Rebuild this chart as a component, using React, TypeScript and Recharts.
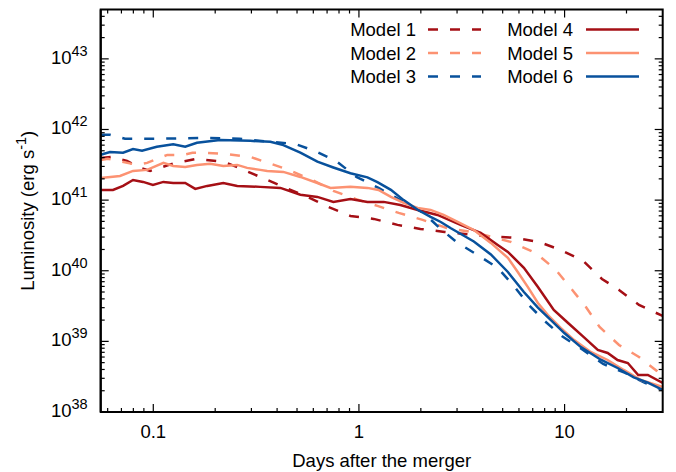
import React from 'react';
import { LineChart, Line, XAxis, YAxis, Legend } from 'recharts';

const FONT = '"Liberation Sans", Arial, Helvetica, sans-serif';
const DARK_RED = '#a50f15';
const SALMON = '#fc9272';
const BLUE = '#08519c';

// ---- data: days after merger / luminosity (erg s^-1) ----
const model1Days = [0.0555, 0.063, 0.0745, 0.0862, 0.0965, 0.128, 0.163, 0.221, 0.268, 0.331, 0.429, 0.549, 0.711, 0.909, 1.18, 1.54, 1.99, 2.61, 4.09, 5.79, 7.49, 9.58, 12.3, 15.2, 18.4, 23.0, 30];
const model1Lum = [3.96e41, 4.09e41, 3.59e41, 2.86e41, 2.59e41, 3.37e41, 3.84e41, 3.47e41, 2.77e41, 2.13e41, 1.54e41, 1.15e41, 8.0e40, 5.97e40, 5.42e40, 4.46e40, 3.91e40, 3.55e40, 3.11e40, 2.92e40, 2.56e40, 1.97e40, 1.38e40, 7.65e39, 5.35e39, 3.28e39, 2.29e39];

const model2Days = [0.0555, 0.0602, 0.0834, 0.0933, 0.117, 0.140, 0.155, 0.183, 0.224, 0.296, 0.351, 0.454, 0.594, 0.751, 0.962, 1.23, 1.56, 2.04, 2.67, 3.74, 5.47, 7.24, 9.06, 11.0, 12.7, 14.8, 18.4, 23.0, 28.1, 30];
const model2Lum = [3.71e41, 3.84e41, 3.15e41, 3.37e41, 4.37e41, 4.37e41, 4.67e41, 4.67e41, 4.51e41, 4.09e41, 3.47e41, 2.68e41, 1.93e41, 1.35e41, 1.04e41, 8.28e40, 6.59e40, 5.25e40, 4.04e40, 3.43e40, 2.56e40, 1.79e40, 1.03e40, 5.18e39, 3.07e39, 1.6e39, 8.89e38, 6.01e38, 3.81e38, 3.13e38];

const model3Days = [0.0555, 0.0616, 0.0729, 0.108, 0.169, 0.263, 0.37, 0.49, 0.628, 0.786, 0.972, 1.245, 1.593, 2.06, 2.5, 3.02, 3.78, 4.73, 5.72, 6.69, 8.01, 9.69, 12.3, 15.4, 19.7, 24.6, 30];
const model3Lum = [8.4e41, 8.4e41, 7.4e41, 7.4e41, 7.6e41, 7.4e41, 6.7e41, 6.25e41, 4.8e41, 3.47e41, 2.13e41, 1.49e41, 1.0e41, 6.6e40, 3.9e40, 2.48e40, 1.67e40, 1.1e40, 5.9e39, 3.28e39, 1.94e39, 1.19e39, 7.55e38, 4.79e38, 3.57e38, 2.58e38, 2.05e38];

const model4Days = [0.0555, 0.0637, 0.0713, 0.0797, 0.0892, 0.0996, 0.112, 0.125, 0.143, 0.160, 0.183, 0.219, 0.256, 0.331, 0.415, 0.519, 0.628, 0.751, 0.909, 1.10, 1.32, 1.59, 1.93, 2.41, 3.12, 3.91, 4.73, 5.30, 6.34, 7.42, 8.86, 10.4, 12.4, 14.5, 16.2, 18.1, 20.3, 22.8, 25.4, 30];
const model4Lum = [1.39e41, 1.39e41, 1.59e41, 1.93e41, 1.81e41, 1.64e41, 1.81e41, 1.75e41, 1.75e41, 1.44e41, 1.59e41, 1.75e41, 1.59e41, 1.54e41, 1.49e41, 1.19e41, 1.11e41, 9.44e40, 1.04e41, 9.44e40, 9.44e40, 8.55e40, 7.26e40, 6.17e40, 4.46e40, 3.43e40, 2.32e40, 1.85e40, 1.1e40, 5.9e39, 2.79e39, 1.82e39, 1.15e39, 7.55e38, 6.86e38, 5.45e38, 4.94e38, 3.34e38, 3.34e38, 2.58e38];

const model5Days = [0.0555, 0.0689, 0.0797, 0.0933, 0.112, 0.125, 0.143, 0.163, 0.189, 0.219, 0.256, 0.286, 0.331, 0.358, 0.429, 0.519, 0.628, 0.727, 0.909, 1.10, 1.245, 1.43, 1.65, 1.93, 2.23, 2.58, 3.02, 3.62, 4.38, 5.30, 5.92, 6.62, 7.42, 8.28, 9.58, 11.1, 13.4, 16.2, 19.4, 23.5, 30];
const model5Lum = [2.06e41, 2.2e41, 2.59e41, 2.68e41, 3.37e41, 3.05e41, 2.95e41, 3.15e41, 3.26e41, 3.05e41, 3.15e41, 2.86e41, 2.68e41, 2.59e41, 2.51e41, 2.13e41, 1.75e41, 1.49e41, 1.54e41, 1.49e41, 1.39e41, 1.11e41, 9.12e40, 7.76e40, 7.26e40, 6.17e40, 4.91e40, 3.78e40, 2.48e40, 1.52e40, 9.6e39, 5.9e39, 3.5e39, 2.37e39, 1.55e39, 1.05e39, 7.08e38, 5.45e38, 3.94e38, 2.84e38, 2.26e38];

const model6Days = [0.0555, 0.0616, 0.0713, 0.0797, 0.0882, 0.104, 0.125, 0.143, 0.163, 0.211, 0.296, 0.371, 0.429, 0.519, 0.628, 0.751, 0.909, 1.10, 1.23, 1.43, 1.65, 1.93, 2.23, 2.5, 2.8, 3.62, 4.38, 5.30, 6.34, 7.42, 8.58, 10.0, 12.0, 15.0, 18.1, 21.7, 25.4, 30];
const model6Lum = [4.4e41, 4.8e41, 4.7e41, 5.3e41, 5.0e41, 5.7e41, 6.2e41, 5.7e41, 6.5e41, 7.1e41, 6.9e41, 6.7e41, 6.0e41, 4.7e41, 3.5e41, 2.9e41, 2.4e41, 2.1e41, 1.8e41, 1.4e41, 1.0e41, 7.3e40, 5.8e40, 4.9e40, 4.0e40, 2.6e40, 1.7e40, 9.6e39, 5.0e39, 3.0e39, 2.0e39, 1.3e39, 8.3e38, 5.5e38, 4.2e38, 3.1e38, 2.6e38, 2.05e38];

// ---- axes ----
const X_DOMAIN = [0.0555, 30];
const Y_DOMAIN = [1e38, 5e43];
const X_MAJOR = [0.1, 1, 10];
const X_LABELS = ['0.1', '1', '10'];
const X_MINOR = [0.06, 0.07, 0.08, 0.09, 0.2, 0.3, 0.4, 0.5, 0.6, 0.7, 0.8, 0.9, 2, 3, 4, 5, 6, 7, 8, 9, 20];
const Y_EXPONENTS = [38, 39, 40, 41, 42, 43];
const MINOR_MULT = [2, 3, 4, 5, 6, 7, 8, 9];

const X_TICKS = [...X_MAJOR, ...X_MINOR].sort((a, b) => a - b);
const Y_MAJOR = Y_EXPONENTS.map((e) => Math.pow(10, e));
const Y_TICKS: number[] = [];
Y_EXPONENTS.forEach((e) => {
  Y_TICKS.push(Math.pow(10, e));
  MINOR_MULT.forEach((m) => {
    const v = m * Math.pow(10, e);
    if (v < Y_DOMAIN[1]) Y_TICKS.push(v);
  });
});

const SERIES = [
  { name: 'Model 1', days: model1Days, lum: model1Lum, color: DARK_RED, dash: '10 12' },
  { name: 'Model 2', days: model2Days, lum: model2Lum, color: SALMON, dash: '10 12' },
  { name: 'Model 3', days: model3Days, lum: model3Lum, color: BLUE, dash: '10 12' },
  { name: 'Model 4', days: model4Days, lum: model4Lum, color: DARK_RED, dash: undefined },
  { name: 'Model 5', days: model5Days, lum: model5Lum, color: SALMON, dash: undefined },
  { name: 'Model 6', days: model6Days, lum: model6Lum, color: BLUE, dash: undefined },
].map((s) => ({ ...s, data: s.days.map((d, i) => ({ x: d, y: s.lum[i] })) }));

// ---- layout ----
const W = 676;
const H = 472;
const MARGIN = { top: 9.5, right: 13.3, bottom: 0, left: 0 };
const Y_AXIS_W = 100.7;
const X_AXIS_H = 60;
const PLOT_LEFT = MARGIN.left + Y_AXIS_W;
const PLOT_TOP = MARGIN.top;
const PLOT_RIGHT = W - MARGIN.right;
const PLOT_BOTTOM = H - MARGIN.bottom - X_AXIS_H;

const MAJOR_LEN = 8;
const MINOR_LEN = 4;
const TICK_W = 1.2;
const FRAME_W = 2;
const FS = 18.5;

const isMajorY = (v: number) => Y_MAJOR.some((m) => Math.abs(m - v) / m < 1e-9);

// log mapping identical to the chart's axes (same domain and range), used for the frame ticks
const LX0 = Math.log10(X_DOMAIN[0]);
const LX1 = Math.log10(X_DOMAIN[1]);
const LY0 = Math.log10(Y_DOMAIN[0]);
const LY1 = Math.log10(Y_DOMAIN[1]);
const tickX = (v: number) => PLOT_LEFT + ((Math.log10(v) - LX0) / (LX1 - LX0)) * (PLOT_RIGHT - PLOT_LEFT);
const tickY = (v: number) => PLOT_BOTTOM - ((Math.log10(v) - LY0) / (LY1 - LY0)) * (PLOT_BOTTOM - PLOT_TOP);

const BottomTick = (props: any) => {
  const { x, y, payload } = props;
  const idx = X_MAJOR.indexOf(payload.value);
  if (idx < 0) return <g />;
  return (
    <text x={x} y={y + 25.5} textAnchor="middle" fontSize={FS} fontFamily={FONT} fill="#000">
      {X_LABELS[idx]}
    </text>
  );
};

const LeftTick = (props: any) => {
  const { x, y, payload } = props;
  if (!isMajorY(payload.value)) return <g />;
  const exp = Math.round(Math.log10(payload.value));
  return (
    <text x={x - 13} y={y + 5} textAnchor="end" fontSize={FS} fontFamily={FONT} fill="#000">
      <tspan>10</tspan>
      <tspan fontSize={14.5} dy={-8}>{exp}</tspan>
    </text>
  );
};

const XTitle = () => (
  <text x={(PLOT_LEFT + PLOT_RIGHT) / 2} y={PLOT_BOTTOM + 55} textAnchor="middle" fontSize={FS} fontFamily={FONT} fill="#000">
    Days after the merger
  </text>
);

const YTitle = () => {
  const cx = MARGIN.left + 34;
  const cy = (PLOT_TOP + PLOT_BOTTOM) / 2;
  return (
    <text transform={`translate(${cx},${cy}) rotate(-90)`} x={0} y={0} textAnchor="middle" fontSize={FS} fontFamily={FONT} fill="#000">
      <tspan>Luminosity (erg s</tspan>
      <tspan fontSize={14.5} dy={-8}>-1</tspan>
      <tspan dy={8}>)</tspan>
    </text>
  );
};

// legend plus the mirrored frame (border box and inward ticks on all four sides)
const LegendContent = () => (
  <svg width={W} height={H} style={{ display: 'block', pointerEvents: 'none' }}>
    <rect x={PLOT_LEFT} y={PLOT_TOP} width={PLOT_RIGHT - PLOT_LEFT} height={PLOT_BOTTOM - PLOT_TOP} fill="none" stroke="#000" strokeWidth={FRAME_W} />
    {X_TICKS.map((v) => {
      const len = X_MAJOR.includes(v) ? MAJOR_LEN : MINOR_LEN;
      const px = tickX(v);
      return (
        <g key={'x' + v}>
          <line x1={px} x2={px} y1={PLOT_BOTTOM} y2={PLOT_BOTTOM - len} stroke="#000" strokeWidth={TICK_W} />
          <line x1={px} x2={px} y1={PLOT_TOP} y2={PLOT_TOP + len} stroke="#000" strokeWidth={TICK_W} />
        </g>
      );
    })}
    {Y_TICKS.map((v) => {
      const len = isMajorY(v) ? MAJOR_LEN : MINOR_LEN;
      const py = tickY(v);
      return (
        <g key={'y' + v}>
          <line x1={PLOT_LEFT} x2={PLOT_LEFT + len} y1={py} y2={py} stroke="#000" strokeWidth={TICK_W} />
          <line x1={PLOT_RIGHT} x2={PLOT_RIGHT - len} y1={py} y2={py} stroke="#000" strokeWidth={TICK_W} />
        </g>
      );
    })}
    {SERIES.map((s, i) => {
      const col = i < 3 ? 0 : 1;
      const row = i % 3;
      const textRight = col === 0 ? 416 : 573;
      const lineStart = col === 0 ? 428 : 586;
      const cy = 29.5 + row * 23.5;
      return (
        <g key={s.name}>
          <text x={textRight} y={cy + 6.5} textAnchor="end" fontSize={FS} fontFamily={FONT} fill="#000">
            {s.name}
          </text>
          <line x1={lineStart} x2={lineStart + 53} y1={cy} y2={cy} stroke={s.color} strokeWidth={2.5} strokeDasharray={s.dash} />
        </g>
      );
    })}
  </svg>
);

export default function App() {
  return (
    <div style={{ position: 'absolute', left: 0, top: 0, width: W, height: H, background: '#fff' }}>
      <LineChart width={W} height={H} margin={MARGIN}>
        <XAxis
          xAxisId="b"
          type="number"
          dataKey="x"
          scale="log"
          domain={X_DOMAIN}
          allowDataOverflow
          ticks={X_TICKS}
          interval={0}
          tick={<BottomTick />}
          tickLine={false}
          tickSize={0}
          tickMargin={0}
          height={X_AXIS_H}
          axisLine={{ stroke: '#000', strokeWidth: FRAME_W }}
          label={<XTitle />}
        />
        <YAxis
          yAxisId="l"
          type="number"
          scale="log"
          domain={Y_DOMAIN}
          allowDataOverflow
          ticks={Y_TICKS}
          interval={0}
          tick={<LeftTick />}
          tickLine={false}
          tickSize={0}
          tickMargin={0}
          width={Y_AXIS_W}
          axisLine={{ stroke: '#000', strokeWidth: FRAME_W }}
          label={<YTitle />}
        />
        <Legend
          layout="horizontal"
          verticalAlign="middle"
          align="center"
          content={<LegendContent />}
          wrapperStyle={{ left: 0, top: 0, width: W, height: H, pointerEvents: 'none' }}
        />
        {SERIES.map((s) => (
          <Line
            key={s.name}
            xAxisId="b"
            yAxisId="l"
            data={s.data}
            dataKey="y"
            name={s.name}
            type="linear"
            stroke={s.color}
            strokeWidth={2.5}
            strokeDasharray={s.dash}
            dot={false}
            activeDot={false}
            isAnimationActive={false}
          />
        ))}
      </LineChart>
    </div>
  );
}
